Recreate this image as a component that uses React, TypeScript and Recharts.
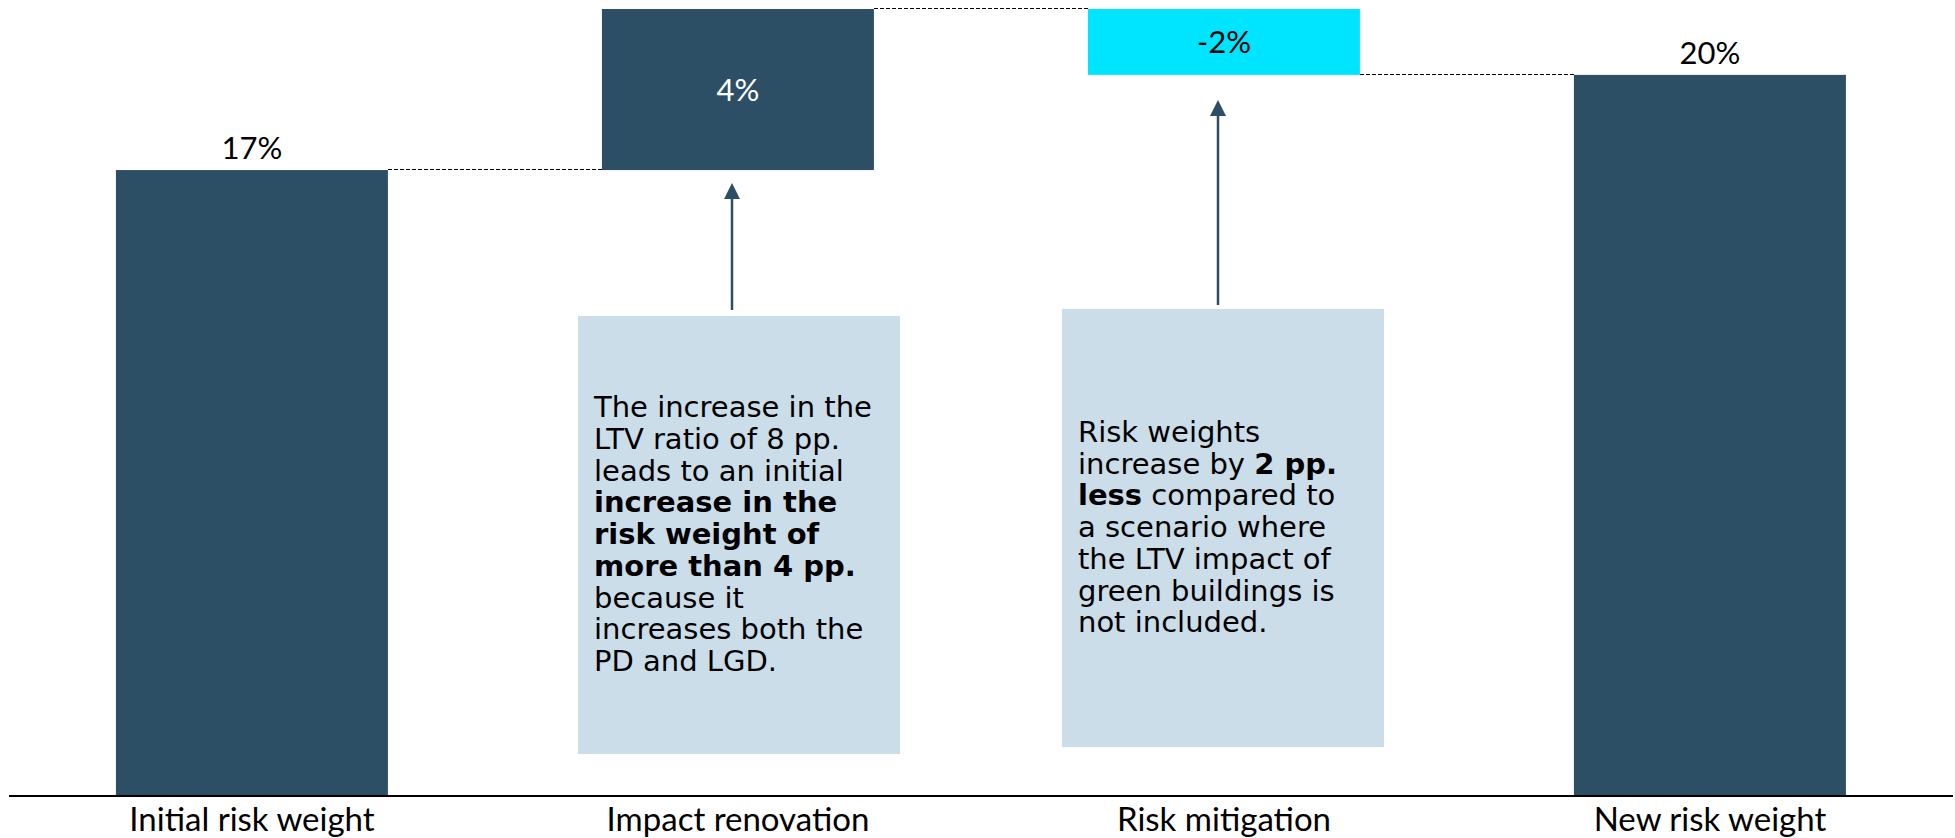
import { BarChart, Bar, XAxis, YAxis, LabelList } from 'recharts'

const categories = ['Initial risk weight', 'Impact renovation', 'Risk mitigation', 'New risk weight']
const changes = [17.1, 4.4, -1.8, 19.7]
const isTotal = [true, false, false, true]
const barColors = ['#2d4f66', '#2d4f66', '#00e5ff', '#2d4f66']
const labelColors = ['#000000', '#ffffff', '#000000', '#000000']

const FONT = 'Lato, "Open Sans", sans-serif'
const BOX_FONT = '"DejaVu Sans", sans-serif'
const BAND_GAP = '22%'
const GAP_RATIO = 0.44 / 0.56

let running = 0
const data = categories.map((name, i) => {
  const delta = changes[i]
  let base = 0
  let size = delta
  let end = delta
  if (!isTotal[i]) {
    end = running + delta
    base = Math.min(running, end)
    size = Math.abs(delta)
  }
  running = end
  return { name, base, size, end }
})

function StepBar(props: any) {
  const { x, y, width, height, index } = props
  const last = index === data.length - 1
  const endY = changes[index] < 0 ? y + height : y - 1
  return (
    <g>
      <rect x={x} y={y} width={width} height={height} fill={barColors[index]} />
      {!last && (
        <line
          x1={x + width}
          x2={x + width + width * GAP_RATIO}
          y1={endY}
          y2={endY}
          stroke="#000"
          strokeWidth={1}
          strokeDasharray="4 2"
          shapeRendering="crispEdges"
        />
      )}
    </g>
  )
}

function ValueLabel(props: any) {
  const { x, y, width, height, index } = props
  const text = `${Math.round(changes[index])}%`
  const cx = x + width / 2
  const ty = isTotal[index] ? y - 11 : y + height / 2 + 11
  return (
    <text x={cx} y={ty} textAnchor="middle" fill={labelColors[index]} fontSize={31} fontFamily={FONT}>
      {text}
    </text>
  )
}

const boxStyle = {
  position: 'absolute' as const,
  background: '#cbdde9',
  width: 322,
  height: 438,
  boxSizing: 'border-box' as const,
  paddingLeft: 16,
  display: 'flex',
  flexDirection: 'column' as const,
  justifyContent: 'center',
  fontFamily: BOX_FONT,
  fontSize: 29,
  lineHeight: '31.7px',
  color: '#000',
  whiteSpace: 'nowrap' as const,
}

const bold = { fontWeight: 700 }

export default function App() {
  return (
    <div style={{ position: 'absolute', left: 0, top: 0, width: 1955, height: 838, background: '#fff' }}>
      <BarChart
        width={1955}
        height={838}
        data={data}
        margin={{ top: 9, right: 2, left: 9, bottom: 0 }}
        barCategoryGap={BAND_GAP}
      >
        <XAxis
          dataKey="name"
          height={42}
          tickLine={false}
          tickSize={0}
          tickMargin={12}
          axisLine={{ stroke: '#000', strokeWidth: 2 }}
          tick={{ fill: '#000', fontSize: 33, fontFamily: FONT }}
          interval={0}
        />
        <YAxis hide domain={[0, 21.5]} />
        <Bar dataKey="base" stackId="w" fill="transparent" isAnimationActive={false} />
        <Bar dataKey="size" stackId="w" shape={StepBar} isAnimationActive={false}>
          <LabelList dataKey="size" content={ValueLabel} />
        </Bar>
      </BarChart>

      <svg width={1955} height={838} style={{ position: 'absolute', left: 0, top: 0, pointerEvents: 'none' }}>
        <line x1={732} x2={732} y1={310} y2={195} stroke="#2d4f66" strokeWidth={2.5} />
        <polygon points="732,183 724,199 740,199" fill="#2d4f66" />
        <line x1={1218} x2={1218} y1={305} y2={112} stroke="#2d4f66" strokeWidth={2.5} />
        <polygon points="1218,100 1210,116 1226,116" fill="#2d4f66" />
      </svg>

      <div style={{ ...boxStyle, left: 578, top: 316 }}>
        <div>The increase in the</div>
        <div>LTV ratio of 8 pp.</div>
        <div>leads to an initial</div>
        <div style={bold}>increase in the</div>
        <div style={bold}>risk weight of</div>
        <div style={bold}>more than 4 pp.</div>
        <div>because it</div>
        <div>increases both the</div>
        <div>PD and LGD.</div>
      </div>

      <div style={{ ...boxStyle, left: 1062, top: 309 }}>
        <div>Risk weights</div>
        <div>
          increase by <span style={bold}>2 pp.</span>
        </div>
        <div>
          <span style={bold}>less</span> compared to
        </div>
        <div>a scenario where</div>
        <div>the LTV impact of</div>
        <div>green buildings is</div>
        <div>not included.</div>
      </div>
    </div>
  )
}
